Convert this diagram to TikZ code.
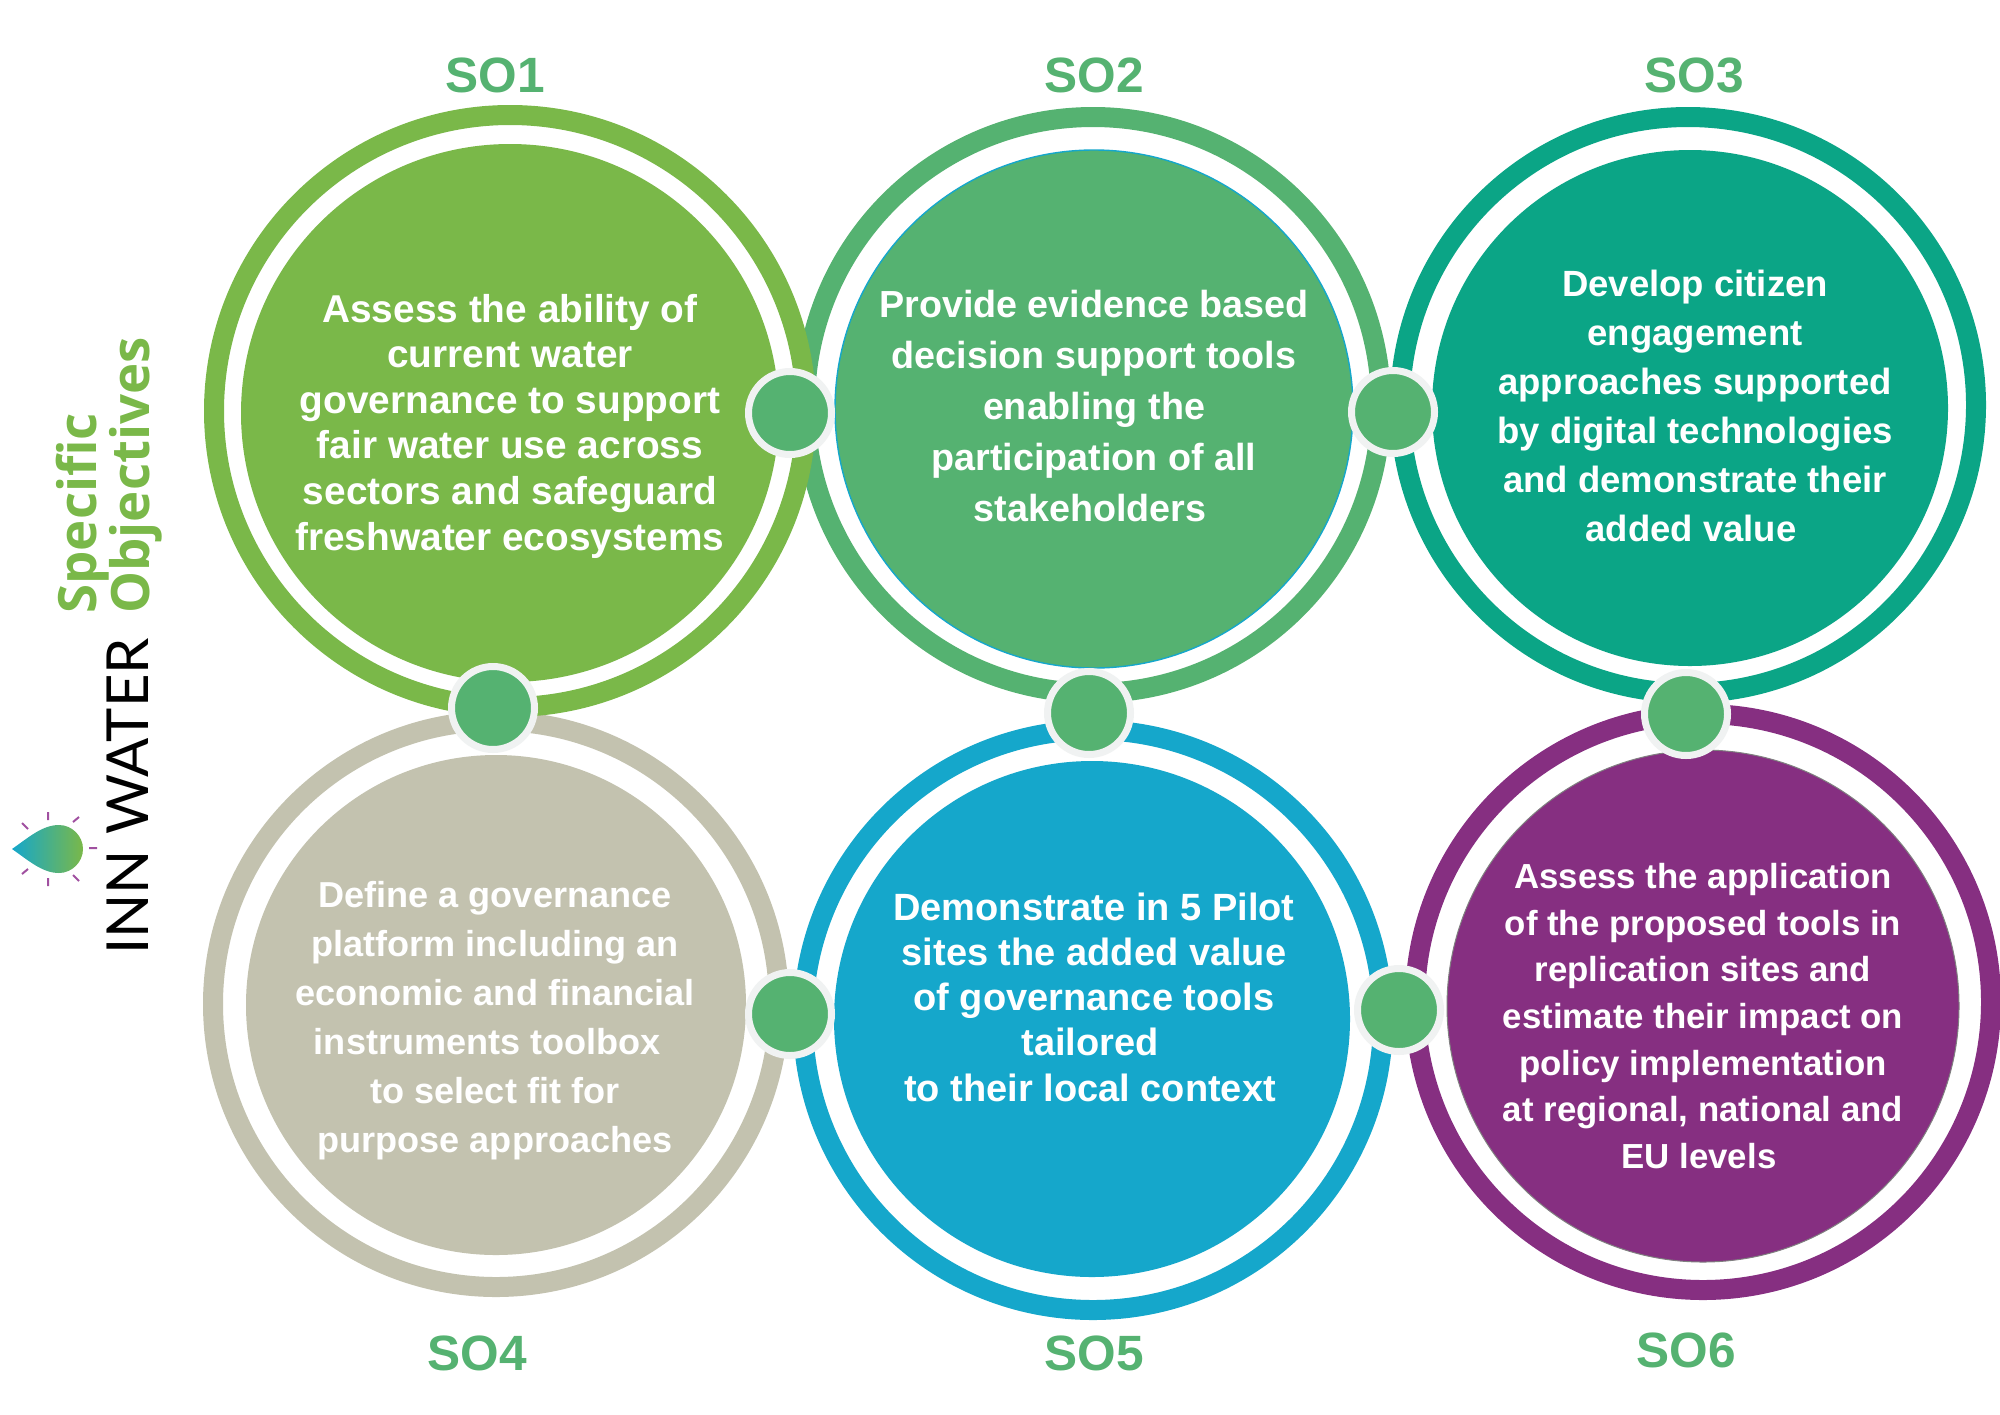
\documentclass[tikz,border=0pt]{standalone}
\usepackage{fontspec}
\setmainfont{Liberation Sans}
\newfontfamily\sidefont{Open Sans}
\newfontfamily\logofont{Lato}
\usepackage{xcolor}
\definecolor{sogreen}{RGB}{122,184,73}
\definecolor{somint}{RGB}{85,178,113}
\definecolor{soteal}{RGB}{11,165,134}
\definecolor{sobeige}{RGB}{195,194,175}
\definecolor{soblue}{RGB}{21,167,203}
\definecolor{sopurple}{RGB}{134,47,129}
\definecolor{hubrim}{RGB}{240,242,242}
\definecolor{raypurple}{RGB}{160,80,160}
\usepackage{tikz}
\usetikzlibrary{positioning}
\tikzset{
  ring/.style={circle,draw=#1,fill=white,line width=10pt,inner sep=0pt,outer sep=0pt},
  disc/.style={circle,fill=#1,inner sep=0pt,outer sep=0pt},
  hub/.style={circle,draw=hubrim,fill=somint,line width=3.5pt,minimum size=41.5pt,inner sep=0pt,outer sep=0pt},
  sotext/.style 2 args={text=white,font=\bfseries\fontsize{#1}{#2}\selectfont,align=center,inner sep=0pt},
  solabel/.style={text=somint,font=\bfseries\fontsize{24.8pt}{30pt}\selectfont,inner sep=0pt},
  sidetext/.style={text=sogreen,font=\sidefont\bfseries\fontsize{26.4pt}{30pt}\selectfont,rotate=90,anchor=base west,inner sep=0pt},
}
\begin{document}
\begin{tikzpicture}[x=0.5pt,y=-0.5pt]
\useasboundingbox (0,0) rectangle (2000,1414);
% bottom row
\node[ring=sobeige,minimum size=283pt] (ring4) at (496,1004) {};
\node[disc=sobeige,minimum size=250pt] (disc4) at (496,1005) {};
\node[ring=soblue,minimum size=290pt] (ring5) at (1093,1020) {};
\node[disc=soblue,minimum size=258pt] (disc5) at (1092,1019) {};
\node[ring=sopurple,minimum size=288pt] (ring6) at (1703,1002) {};
\node[disc=sopurple,draw=gray,line width=.5pt,minimum size=256pt] (disc6) at (1703,1006) {};
% top row
\node[ring=soteal,minimum size=288pt] (ring3) at (1688,405) {};
\node[disc=soteal,minimum size=258pt] (disc3) at (1690,408) {};
\node[ring=somint,minimum size=288pt] (ring2) at (1093,405) {};
\node[disc=somint,draw=soblue,line width=.7pt,minimum size=259pt] (disc2) at (1094,409) {};
\node[ring=sogreen,minimum size=296pt] (ring1) at (510,411) {};
\node[disc=sogreen,minimum size=269pt] (disc1) at (510,413) {};
% joints
\node[hub] (hub12) at (790,413) {};
\node[hub] (hub23) at (1393,412) {};
\node[hub] (hub14) at (493,708) {};
\node[hub] (hub25) at (1089,713) {};
\node[hub] (hub36) at (1686,714) {};
\node[hub] (hub45) at (790,1014) {};
\node[hub] (hub56) at (1399,1010) {};
% texts
\node[sotext={19.4pt}{22.8pt}] (text1) at (510,426)
  {Assess the ability of\\current water\\governance to support\\fair water use across\\sectors and safeguard\\freshwater ecosystems};
\node[sotext={18.85pt}{25.6pt}] (text2) at (1094,406)
  {Provide evidence based\\decision support tools\\enabling the\\participation of all\\stakeholders\hspace*{4pt}\null};
\node[sotext={18.25pt}{24.5pt}] (text3) at (1695,406)
  {Develop citizen\\engagement\\approaches supported\\by digital technologies\\and demonstrate their\\added value\hspace*{4pt}\null};
\node[sotext={18.05pt}{24.5pt}] (text4) at (495,1021)
  {Define a governance\\platform including an\\economic and financial\\instruments toolbox\hspace*{7.6pt}\null\\to select fit for\\purpose approaches};
\node[sotext={19pt}{22.6pt}] (text5) at (1094,997)
  {Demonstrate in 5 Pilot\\sites the added value\\of governance tools\\tailored\hspace*{4pt}\null\\to their local context\hspace*{4pt}\null};
\node[sotext={17.4pt}{23.3pt}] (text6) at (1703,1016)
  {Assess the application\\of the proposed tools in\\replication sites and\\estimate their impact on\\policy implementation\\at regional, national and\\EU levels\hspace*{4pt}\null};
% labels
\node[solabel] (so1) at (495,75) {SO1};
\node[solabel] (so2) at (1094,75) {SO2};
\node[solabel] (so3) at (1694,75) {SO3};
\node[solabel] (so4) at (477,1353) {SO4};
\node[solabel] (so5) at (1094,1353) {SO5};
\node[solabel] (so6) at (1686,1350) {SO6};
% side
\node[sidetext] (specific) at (96,614) {Specific};
\node[sidetext] (objectives) at (149,614) {Objectives};
\node[rotate=90,anchor=base west,inner sep=0pt,font=\logofont\fontsize{29pt}{30pt}\selectfont] (innwater) at (148,955) {INN WATER};
% logo
\shade[left color=soblue,right color=sogreen] (59,825) .. controls (72,825) and (83,836) .. (83,849)
  .. controls (83,862) and (72,873) .. (59,873) .. controls (42,873) and (28,860) .. (12,849)
  .. controls (28,838) and (42,825) .. (59,825) -- cycle;
\draw[raypurple,line width=1pt] (48,812) -- (48,820) (48,878) -- (48,886) (89,848) -- (97,848)
  (22,823) -- (28,829) (73,822) -- (79,817) (22,874) -- (28,869) (73,875) -- (79,881);
\end{tikzpicture}
\end{document}
